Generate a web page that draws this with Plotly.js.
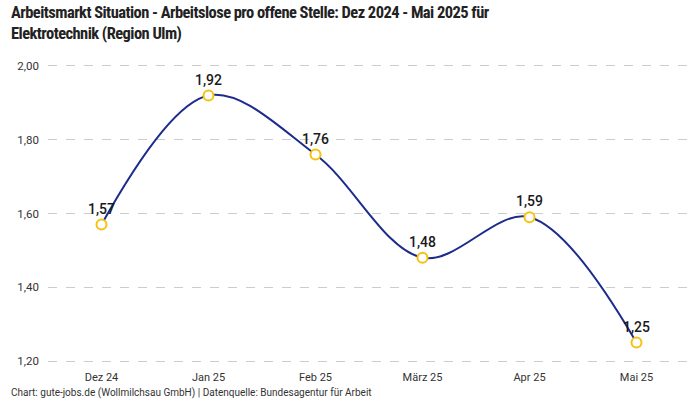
<!DOCTYPE html>
<html><head><meta charset="utf-8">
<script src="https://cdn.plot.ly/plotly-3.0.1.min.js"></script>
<style>body{margin:0;}#c{width:700px;height:400px;}</style>
</head><body><div id="c"></div>
<script>
const months = ["Dez 24","Jan 25","Feb 25","März 25","Apr 25","Mai 25"];
const ratio = [1.57,1.92,1.76,1.48,1.59,1.25];
const labels = ratio.map(v => v.toFixed(2).replace(".", ","));
const yTicks = [1.2,1.4,1.6,1.8,2.0];
const yTickText = yTicks.map(v => v.toFixed(2).replace(".", ","));
const F = "Roboto, 'Noto Sans', sans-serif";
const FT = "'Roboto Condensed', Roboto, sans-serif";
Plotly.newPlot("c", [{
  x: months, y: ratio, type: "scatter", mode: "lines+markers+text",
  line: {shape: "spline", smoothing: 1, color: "#1b2c8c", width: 2},
  marker: {symbol: "circle", size: 10, color: "#ffffff", line: {width: 2, color: "#f7c10f"}},
  text: labels, textposition: "top center",
  textfont: {family: F, size: 14, color: "#1a1a1a", weight: 500},
  cliponaxis: false, hoverinfo: "skip"
}], {
  width: 700, height: 400,
  margin: {l: 48, r: 10, t: 63, b: 36},
  paper_bgcolor: "#fff", plot_bgcolor: "#fff",
  showlegend: false,
  xaxis: {type: "category", range: [-0.5, 5.5], showgrid: false, zeroline: false, showline: false,
    ticks: "", ticklabelstandoff: 5, tickfont: {family: F, size: 11, color: "#333"}},
  yaxis: {range: [1.1919, 2.0081], tickvals: yTicks, ticktext: yTickText, showgrid: true,
    gridcolor: "#cccccc", griddash: "dash", gridwidth: 1, zeroline: false, showline: false,
    ticks: "", ticklabelstandoff: 8, tickfont: {family: F, size: 11.5, color: "#333"}},
  annotations: [
   {text: "<b>Arbeitsmarkt Situation - Arbeitslose pro offene Stelle: Dez 2024 - Mai 2025 für<br>Elektrotechnik (Region Ulm)</b>",
    xref: "paper", yref: "paper", x: -0.06, xanchor: "left", align: "left", y: 1.205, yanchor: "top",
    showarrow: false, font: {family: FT, size: 16.5, color: "#222"}},
   {text: "Chart: gute-jobs.de (Wollmilchsau GmbH) | Datenquelle: Bundesagentur für Arbeit",
    xref: "paper", yref: "paper", x: -0.06, xanchor: "left", y: -0.097, yanchor: "middle",
    showarrow: false, font: {family: F, size: 10, color: "#333"}}]
}, {displayModeBar: false, staticPlot: true}).then(gd => {
  const t = gd.querySelector(".annotation text");
  if (t) { t.style.fontStretch = "75%"; t.style.letterSpacing = "-0.55px"; }
});
</script></body></html>
